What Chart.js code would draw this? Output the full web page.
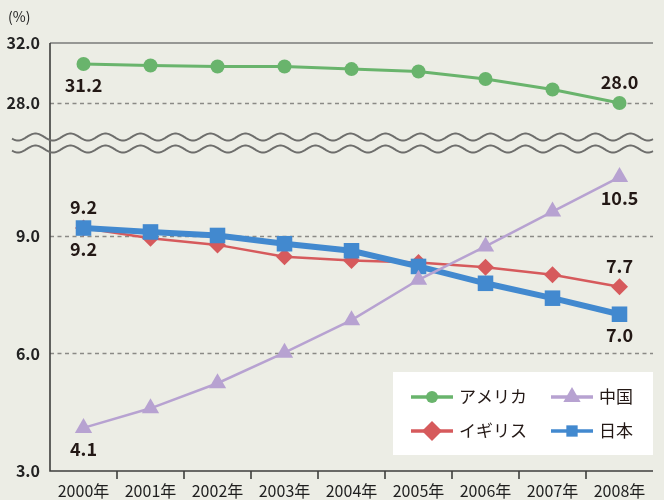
<!DOCTYPE html>
<html><head><meta charset="utf-8">
<script src="https://cdn.jsdelivr.net/npm/chart.js@4/dist/chart.umd.min.js"></script>
<style>html,body{margin:0;padding:0;background:#ECEDE5;} #wrap{width:664px;height:500px;position:relative;}</style>
</head><body><div id="wrap"><canvas id="c" width="664" height="500"></canvas></div>
<script>
// ---- data ----
const years = ['2000年','2001年','2002年','2003年','2004年','2005年','2006年','2007年','2008年'];
const seriesNames = ['アメリカ','イギリス','中国','日本'];
const usa   = [30.6, 30.5, 30.43, 30.43, 30.26, 30.1, 29.6, 28.9, 28.0];
const uk    = [9.2, 8.94, 8.77, 8.47, 8.37, 8.32, 8.2, 8.01, 7.7];
const china = [4.1, 4.6, 5.24, 6.02, 6.85, 7.88, 8.73, 9.62, 10.5];
const japan = [9.2, 9.1, 9.01, 8.8, 8.62, 8.22, 7.79, 7.41, 7.0];
const topTicks = [28, 32];
const bottomTicks = [3, 6, 9];
const unitLabel = '(%)';
// value labels shown at the series ends: [series index, point index, text, side]
const valueLabels = [
  [0, 0, '31.2', 1], [0, 8, '28.0', -1],
  [3, 0, '9.2', -1], [1, 0, '9.2', 1],
  [2, 0, '4.1', 1], [2, 8, '10.5', 1],
  [1, 8, '7.7', -1], [3, 8, '7.0', 1]
];

// ---- styles ----
const BG = '#ECEDE5';
const GREEN = '#69B46C', RED = '#D65A5C', PURPLE = '#B7A2D1', BLUE = '#4289CF';
const FONT = '"Noto Sans CJK JP", "Noto Sans", sans-serif';

function drawMarker(ctx, style, x, y, r, color) {
  ctx.save();
  ctx.fillStyle = color;
  ctx.beginPath();
  if (style === 'circle') {
    ctx.arc(x, y, r, 0, Math.PI * 2);
  } else if (style === 'rectRot') {
    ctx.moveTo(x, y - r); ctx.lineTo(x + r, y); ctx.lineTo(x, y + r); ctx.lineTo(x - r, y); ctx.closePath();
  } else if (style === 'triangle') {
    for (let i = 0; i < 3; i++) {
      const a = -Math.PI / 2 + i * 2 * Math.PI / 3;
      const px = x + r * Math.cos(a), py = y + r * Math.sin(a);
      if (i === 0) ctx.moveTo(px, py); else ctx.lineTo(px, py);
    }
    ctx.closePath();
  } else {
    const s = r * Math.SQRT1_2;
    ctx.rect(x - s, y - s, 2 * s, 2 * s);
  }
  ctx.fill();
  ctx.restore();
}

const framePlugin = {
  id: 'frame',
  beforeDraw(chart) {
    const ctx = chart.ctx;
    ctx.save();
    ctx.fillStyle = BG;
    ctx.fillRect(0, 0, chart.width, chart.height);
    ctx.restore();
  },
  beforeDatasetsDraw(chart) {
    const ctx = chart.ctx, s = chart.scales;
    const L = chart.chartArea.left, R = chart.chartArea.right;
    ctx.save();
    // dashed grid lines
    ctx.strokeStyle = '#8A8A86';
    ctx.lineWidth = 1.5;
    ctx.setLineDash([4, 3.5]);
    const dashed = [[s.yTop, topTicks[0]]].concat(bottomTicks.filter(v => v !== bottomTicks[0]).map(v => [s.yBot, v]));
    dashed.forEach(([sc, v]) => {
      const y = Math.round(sc.getPixelForValue(v)) + 0.5;
      ctx.beginPath(); ctx.moveTo(L, y); ctx.lineTo(R, y); ctx.stroke();
    });
    ctx.setLineDash([]);
    // top solid line
    const yT = s.yTop.getPixelForValue(topTicks[topTicks.length - 1]);
    ctx.strokeStyle = '#7A7A78';
    ctx.beginPath(); ctx.moveTo(L, yT); ctx.lineTo(R, yT); ctx.stroke();
    // axes
    const yB = s.yBot.getPixelForValue(bottomTicks[0]);
    ctx.strokeStyle = '#3E3E3C';
    ctx.lineWidth = 1.6;
    ctx.beginPath(); ctx.moveTo(L, yT); ctx.lineTo(L, yB); ctx.lineTo(R, yB); ctx.stroke();
    // ticks between categories
    for (let i = 0; i < years.length - 1; i++) {
      const x = (s.x.getPixelForValue(i) + s.x.getPixelForValue(i + 1)) / 2;
      ctx.beginPath(); ctx.moveTo(x, yB); ctx.lineTo(x, yB + 8); ctx.stroke();
    }
    ctx.restore();
  },
  afterDatasetsDraw(chart) {
    const ctx = chart.ctx, s = chart.scales;
    const R = chart.chartArea.right;
    ctx.save();
    // break waves
    const yBreak = s.yTop.bottom;
    ctx.strokeStyle = '#6E6E6C';
    ctx.lineWidth = 2;
    [yBreak - 6, yBreak + 6].forEach(cy => {
      ctx.beginPath();
      for (let x = 12; x <= R; x += 1) {
        const y = cy + 3.5 * Math.cos(2 * Math.PI * (x - 53) / 35);
        if (x === 12) ctx.moveTo(x, y); else ctx.lineTo(x, y);
      }
      ctx.stroke();
    });
    // unit label
    ctx.fillStyle = '#222';
    ctx.font = '14px ' + FONT;
    ctx.textAlign = 'left'; ctx.textBaseline = 'middle';
    ctx.fillText(unitLabel, 8, 17);
    // value labels
    ctx.font = 'bold 18px ' + FONT;
    ctx.fillStyle = '#231815';
    ctx.textAlign = 'center';
    valueLabels.forEach(([di, pi, txt, side]) => {
      const el = chart.getDatasetMeta(di).data[pi];
      ctx.fillText(txt, el.x, el.y + side * 21);
    });
    // legend
    const bx = 393, by = 372, bw = 260, bh = 83;
    ctx.fillStyle = '#FFFFFF';
    ctx.fillRect(bx, by, bw, bh);
    const pos = [[411, 397], [411, 431], [551, 397], [551, 431]];
    const radii = [6, 10, 10, 8];
    chart.data.datasets.forEach((ds, i) => {
      const [lx, ly] = pos[i];
      ctx.strokeStyle = ds.borderColor;
      ctx.lineWidth = 3.5;
      ctx.beginPath(); ctx.moveTo(lx, ly); ctx.lineTo(lx + 42, ly); ctx.stroke();
      drawMarker(ctx, ds.pointStyle, lx + 21, ly, radii[i], ds.backgroundColor);
      ctx.fillStyle = '#231815';
      ctx.font = '17px ' + FONT;
      ctx.textAlign = 'left'; ctx.textBaseline = 'middle';
      ctx.fillText(ds.label, lx + 48, ly);
    });
    ctx.restore();
  }
};

const tickFont = { family: FONT, size: 16, weight: 'bold' };
new Chart(document.getElementById('c'), {
  type: 'line',
  data: {
    labels: years,
    datasets: [
      { label: seriesNames[0], data: usa, yAxisID: 'yTop', borderColor: GREEN, backgroundColor: GREEN,
        pointStyle: 'circle', pointRadius: 7, pointBorderWidth: 0, borderWidth: 3, order: 4, clip: false },
      { label: seriesNames[1], data: uk, yAxisID: 'yBot', borderColor: RED, backgroundColor: RED,
        pointStyle: 'rectRot', pointRadius: 8.5, pointBorderWidth: 0, borderWidth: 2.5, order: 3, clip: false },
      { label: seriesNames[2], data: china, yAxisID: 'yBot', borderColor: PURPLE, backgroundColor: PURPLE,
        pointStyle: 'triangle', pointRadius: 10, pointBorderWidth: 0, borderWidth: 2.5, order: 1, clip: false },
      { label: seriesNames[3], data: japan, yAxisID: 'yBot', borderColor: BLUE, backgroundColor: BLUE,
        pointStyle: 'rect', pointRadius: 11, pointBorderWidth: 0, borderWidth: 6, order: 2, clip: false }
    ]
  },
  options: {
    responsive: false, animation: false,
    layout: { padding: { top: 43, right: 9, left: 0, bottom: 0 } },
    plugins: { legend: { display: false }, tooltip: { enabled: false } },
    elements: { line: { tension: 0 } },
    scales: {
      x: {
        offset: true,
        grid: { display: false, drawTicks: false }, border: { display: false },
        ticks: { font: { family: FONT, size: 16 }, color: '#1E1E1E', padding: 10, maxRotation: 0, autoSkip: false },
        afterFit(sc) { sc.height = 29; }
      },
      yBot: {
        type: 'linear', position: 'left', stack: 'y', stackWeight: 328,
        min: 3, max: 11.37,
        grid: { display: false, drawTicks: false }, border: { display: false },
        afterBuildTicks(sc) { sc.ticks = bottomTicks.map(v => ({ value: v })); },
        ticks: { font: tickFont, color: '#222', padding: 10, callback: v => Number(v).toFixed(1) },
        afterFit(sc) { sc.width = 50; }
      },
      yTop: {
        type: 'linear', position: 'left', stack: 'y', stackWeight: 100,
        min: 25.333, max: 32,
        grid: { display: false, drawTicks: false }, border: { display: false },
        afterBuildTicks(sc) { sc.ticks = topTicks.map(v => ({ value: v })); },
        ticks: { font: tickFont, color: '#222', padding: 10, callback: v => Number(v).toFixed(1) },
        afterFit(sc) { sc.width = 50; }
      }
    }
  },
  plugins: [framePlugin]
});
</script>
</body></html>
